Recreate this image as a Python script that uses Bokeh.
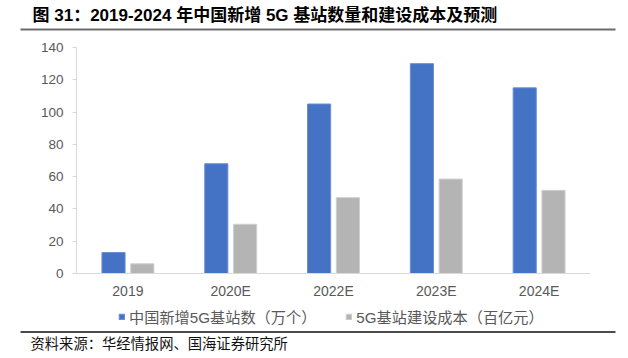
from bokeh.plotting import figure
from bokeh.models import (Range1d, Label, Legend, LegendItem, ColumnDataSource,
                          LinearAxis, FixedTicker)
from bokeh.embed import file_html
from bokeh.resources import INLINE

categories = ["2019", "2020E", "2022E", "2023E", "2024E"]
stations = [13, 68, 105, 130, 115]          # 中国新增5G基站数（万个）
cost = [6, 30.5, 47, 58.5, 51.5]            # 5G基站建设成本（百亿元）
y_ticks = [0, 20, 40, 60, 80, 100, 120, 140]

title_text = "图 31：2019-2024 年中国新增 5G 基站数量和建设成本及预测"
source_text = "资料来源：华经情报网、国海证券研究所"
series_names = ["中国新增5G基站数（万个）", "5G基站建设成本（百亿元）"]

FONT = "'Liberation Sans', 'Noto Sans CJK SC'"
BLUE = "#4472C4"
GRAY = "#B4B4B4"
TXT = "#595959"

# ---- page geometry (pixels) ----
W, H = 628, 358
PL, PR, PT, PB = 76, 590, 47, 273        # plot area edges on the page
ymax = y_ticks[-1]
n = len(categories)
xs = (PR - PL) / n                       # px per category
ys = (PB - PT) / ymax                    # px per unit

centers = [i + 0.5 for i in range(n)]
off = 0.14
src = ColumnDataSource(dict(xa=[c - off for c in centers], xb=[c + off for c in centers],
                            a=stations, b=cost))

p = figure(width=W, height=H, title=None,
           x_range=Range1d(-PL / xs, n + (W - PR) / xs),
           y_range=Range1d(-(H - PB) / ys, ymax + PT / ys),
           x_axis_type=None, y_axis_type=None,
           output_backend="svg", toolbar_location=None,
           min_border=0, min_border_left=0, min_border_right=0,
           min_border_top=0, min_border_bottom=0)
p.outline_line_color = None
p.grid.grid_line_color = None
p.extra_x_ranges = {"px": Range1d(0, W)}
p.extra_y_ranges = {"px": Range1d(H, 0)}

r1 = p.vbar(x="xa", top="a", width=0.225, source=src,
            fill_color=BLUE, line_color="#6d8fd0", line_width=1)
r2 = p.vbar(x="xb", top="b", width=0.225, source=src,
            fill_color=GRAY, line_color="#cfcfcf", line_width=1)

xaxis = LinearAxis(fixed_location=0, bounds=(0, n), ticker=FixedTicker(ticks=centers),
                   major_label_overrides={c: lab for c, lab in zip(centers, categories)})
yaxis = LinearAxis(fixed_location=0, bounds=(0, ymax), ticker=FixedTicker(ticks=y_ticks))
for ax in (xaxis, yaxis):
    ax.axis_line_color = "#D9D9D9"
    ax.major_tick_line_color = "#D9D9D9"
    ax.minor_tick_line_color = None
    ax.major_label_text_color = TXT
    ax.major_label_text_font = "Liberation Sans"
yaxis.major_label_text_font_size = "13.5px"
yaxis.major_tick_in = 0
yaxis.major_tick_out = 4
yaxis.major_label_standoff = 9
xaxis.major_label_text_font_size = "14px"
xaxis.major_tick_in = 0
xaxis.major_tick_out = 0
xaxis.major_label_standoff = 9
p.add_layout(xaxis, "below")
p.add_layout(yaxis, "left")

legend = Legend(items=[LegendItem(label=series_names[0], renderers=[r1]),
                       LegendItem(label=series_names[1], renderers=[r2])],
                orientation="horizontal", location=(118, 31),
                glyph_width=7, glyph_height=7, label_standoff=4, spacing=29,
                padding=0, margin=0, border_line_color=None, background_fill_alpha=0,
                label_text_font=FONT, label_text_font_size="15.2px", label_text_color=TXT)
p.add_layout(legend, "center")

p.add_layout(Label(x=32, y=H - 15, x_units="screen", y_units="screen", text=title_text,
                   text_font=FONT, text_font_size="17px", text_font_style="bold",
                   text_baseline="middle", text_color="#000000"))
p.add_layout(Label(x=30, y=H - 343, x_units="screen", y_units="screen", text=source_text,
                   text_font=FONT, text_font_size="14.3px", text_baseline="middle",
                   text_color="#111111"))
p.segment(x0=[20], y0=[29], x1=[615], y1=[29], line_color="#6b6b6b", line_width=2,
          x_range_name="px", y_range_name="px")
p.segment(x0=[20], y0=[331.5], x1=[615], y1=[331.5], line_color="#111111", line_width=1.5,
          x_range_name="px", y_range_name="px")

open("out.html", "w").write(file_html(p, INLINE))
